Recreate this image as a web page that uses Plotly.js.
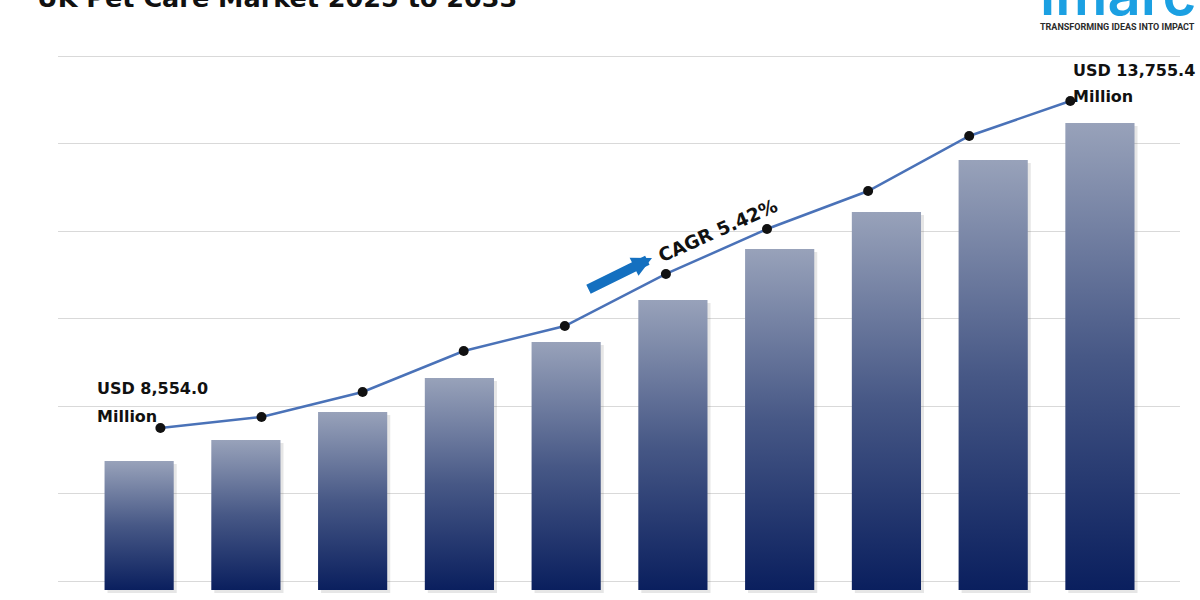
<!DOCTYPE html>
<html>
<head>
<meta charset="utf-8">
<script src="https://cdn.plot.ly/plotly-3.0.1.min.js"></script>
<style>html,body{margin:0;padding:0;background:#fff}#chart{width:1200px;height:600px}</style>
</head>
<body>
<div id="chart"></div>
<script>
// ---- data ----
const years = ['2024','2025','2026','2027','2028','2029','2030','2031','2032','2033'];
const barValues = [8554, 8877, 9308, 9832, 10385, 11032, 11817, 12386, 13186, 13756];
const lineValues = [8554.0, 8729, 9127, 9779, 10176, 11004, 11719, 12324, 13199, 13755.4];
const titleText = 'UK Pet Care Market 2025 to 2033';
const startLabel = ['USD 8,554.0', 'Million'];
const endLabel = ['USD 13,755.4', 'Million'];
const cagrText = 'CAGR 5.42%';
const logoText = 'imarc';
const taglineText = 'TRANSFORMING IDEAS INTO IMPACT';

// ---- layout constants ----
const W = 1200, H = 600;
const M = {l: 58, r: 20, t: 40, b: 4};
const plotW = W - M.l - M.r, plotH = H - M.t - M.b;
const barUnitPerPx = 15.389;      // value units per pixel on the bar axis
const barBase = 6569;             // value at the foot of the bars
const basePx = 590;               // pixel row of bar feet
const bottomPx = H - M.b;
const yMin = barBase - (bottomPx - basePx) * barUnitPerPx;
const yMax = yMin + plotH * barUnitPerPx;
const gridStartPx = 581, gridStepPx = 87.5;
const xRange = [-0.76, 9.75];
const x2Range = [-1.013, 10.085];
const y2Range = [5881.6, 14725.9];
const barHalf = 0.324;
const pxX = (xRange[1] - xRange[0]) / plotW;

const px = p => (p - M.l) / plotW;
const py = p => (bottomPx - p) / plotH;

const font = 'DejaVu Sans, sans-serif';
const traces = [];

// soft shadows behind the bars
years.forEach((yr, i) => {
  const v = barValues[i];
  const dx = 3 * pxX, dy = 3 * barUnitPerPx;
  traces.push({
    type: 'scatter', mode: 'lines', hoverinfo: 'skip', showlegend: false,
    x: [i - barHalf + dx, i - barHalf + dx, i + barHalf + dx, i + barHalf + dx, i - barHalf + dx],
    y: [barBase - dy, v - dy, v - dy, barBase - dy, barBase - dy],
    fill: 'toself', fillcolor: 'rgba(90,90,90,0.15)', line: {width: 0}
  });
});
// bars with vertical gradient
years.forEach((yr, i) => {
  const v = barValues[i];
  traces.push({
    type: 'scatter', mode: 'lines', name: yr, showlegend: false,
    x: [i - barHalf, i - barHalf, i + barHalf, i + barHalf, i - barHalf],
    y: [barBase, v, v, barBase, barBase],
    fill: 'toself', line: {width: 0},
    fillgradient: {type: 'vertical', colorscale: [[0, '#0a1f5e'], [0.5, '#475886'], [1, '#98a2ba']]},
    hoveron: 'fills', text: yr + ': ' + v, hoverinfo: 'text'
  });
});
// line
traces.push({
  type: 'scatter', mode: 'lines+markers', xaxis: 'x2', yaxis: 'y2',
  x: years.map((_, i) => i), y: lineValues, text: years,
  line: {color: '#4a72b8', width: 2.5},
  marker: {color: '#111111', size: 10},
  showlegend: false
});

const annotations = [
  {text: '<b>' + titleText + '</b>', xref: 'paper', yref: 'paper', x: px(35), y: py(15), xanchor: 'left', yanchor: 'bottom', showarrow: false, font: {family: font, size: 25.5, color: '#111'}},
  {text: logoText, xref: 'paper', yref: 'paper', x: px(1038), y: py(31), xanchor: 'left', yanchor: 'bottom', showarrow: false, font: {family: 'Inter, sans-serif', size: 58, color: '#1ba0e2', weight: 600}},
  {text: '<b>' + taglineText + '</b>', xref: 'paper', yref: 'paper', x: px(1038), y: py(27), xanchor: 'left', yanchor: 'middle', showarrow: false, font: {family: 'Roboto, sans-serif', size: 9, color: '#2b2b2b'}},
  {text: '<b>' + startLabel[0] + '</b>', xref: 'paper', yref: 'paper', x: px(95), y: py(400), xanchor: 'left', yanchor: 'bottom', showarrow: false, font: {family: font, size: 16, color: '#111'}},
  {text: '<b>' + startLabel[1] + '</b>', xref: 'paper', yref: 'paper', x: px(95), y: py(428), xanchor: 'left', yanchor: 'bottom', showarrow: false, font: {family: font, size: 16, color: '#111'}},
  {text: '<b>' + endLabel[0] + '</b>', xref: 'paper', yref: 'paper', x: px(1071), y: py(82), xanchor: 'left', yanchor: 'bottom', showarrow: false, font: {family: font, size: 16, color: '#111'}},
  {text: '<b>' + endLabel[1] + '</b>', xref: 'paper', yref: 'paper', x: px(1071), y: py(108), xanchor: 'left', yanchor: 'bottom', showarrow: false, font: {family: font, size: 16, color: '#111'}},
  {text: '<b>' + cagrText + '</b>', xref: 'paper', yref: 'paper', x: px(718), y: py(231), xanchor: 'center', yanchor: 'middle', textangle: -24, showarrow: false, font: {family: font, size: 18.5, color: '#111'}},
  {text: '', xref: 'paper', yref: 'paper', x: px(652), y: py(258), ax: -65, ay: 32, showarrow: true, arrowhead: 2, arrowsize: 0.4, arrowwidth: 10, arrowcolor: '#1470c0'}
];

const layout = {
  width: W, height: H,
  margin: M,
  paper_bgcolor: '#ffffff', plot_bgcolor: '#ffffff',
  showlegend: false,
  xaxis: {range: xRange, visible: false, fixedrange: true},
  xaxis2: {range: x2Range, overlaying: 'x', visible: false, fixedrange: true},
  yaxis: {range: [yMin, yMax], showticklabels: false, ticks: '', showline: false, zeroline: false,
          showgrid: true, gridcolor: '#d9d9d9', gridwidth: 1,
          tick0: barBase + (basePx - gridStartPx) * barUnitPerPx, dtick: gridStepPx * barUnitPerPx, fixedrange: true},
  yaxis2: {range: y2Range, overlaying: 'y', visible: false, fixedrange: true},
  annotations: annotations
};

Plotly.newPlot('chart', traces, layout, {displayModeBar: false, staticPlot: true});
</script>
</body>
</html>
